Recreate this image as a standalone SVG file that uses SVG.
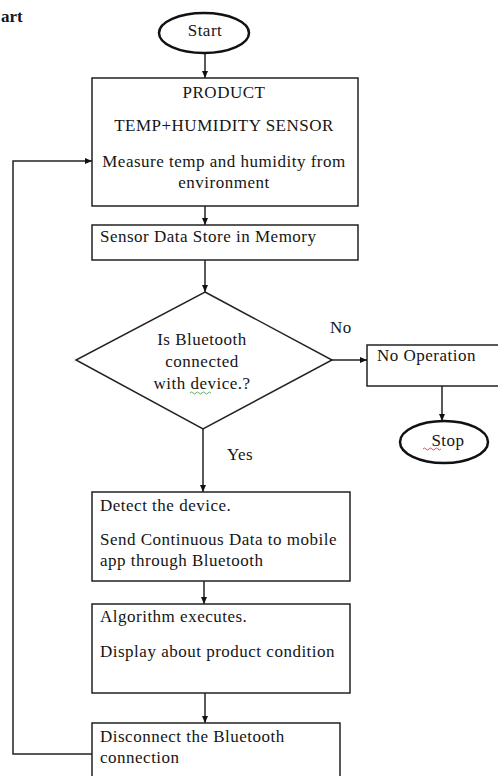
<svg xmlns="http://www.w3.org/2000/svg" width="498" height="776" viewBox="0 0 498 776">
<defs>
<marker id="ah" markerWidth="8" markerHeight="8" refX="7" refY="4" orient="auto" markerUnits="userSpaceOnUse">
<path d="M0,1 L7,4 L0,7 Z" fill="#111"/>
</marker>
<style>
text{font-family:"Liberation Serif","Times New Roman",serif;font-size:17px;fill:#151515;letter-spacing:0.5px}
.c{text-anchor:middle}
.box{fill:#fff;stroke:#222;stroke-width:1.5}
.term{fill:#fff;stroke:#111;stroke-width:2.5}
.ln{fill:none;stroke:#222;stroke-width:1.5}
</style>
</defs>
<rect width="498" height="776" fill="#fff"/>
<text x="1" y="22" style="font-weight:bold;letter-spacing:0">art</text>
<g id="connectors">
<line class="ln" x1="205" y1="54" x2="205" y2="78" marker-end="url(#ah)"/>
<line class="ln" x1="205" y1="206" x2="205" y2="225" marker-end="url(#ah)"/>
<line class="ln" x1="205" y1="260" x2="205" y2="292" marker-end="url(#ah)"/>
<line class="ln" x1="332" y1="360" x2="367" y2="360" marker-end="url(#ah)"/>
<line class="ln" x1="442" y1="386" x2="442" y2="421" marker-end="url(#ah)"/>
<line class="ln" x1="203" y1="429" x2="203" y2="492" marker-end="url(#ah)"/>
<line class="ln" x1="204" y1="581" x2="204" y2="604" marker-end="url(#ah)"/>
<line class="ln" x1="205" y1="693" x2="205" y2="723" marker-end="url(#ah)"/>
<polyline class="ln" points="92,754 13,754 13,161 92,161" marker-end="url(#ah)"/>
<text x="330" y="333">No</text>
<text x="227" y="460">Yes</text>
</g>
<g id="start">
<ellipse class="term" cx="204" cy="33" rx="45" ry="20"/>
<text class="c" x="205" y="36">Start</text>
</g>
<g id="sensor">
<rect class="box" x="92" y="78" width="266" height="128"/>
<text class="c" x="224" y="98">PRODUCT</text>
<text class="c" x="224" y="131">TEMP+HUMIDITY SENSOR</text>
<text class="c" x="224" y="167">Measure temp and humidity from</text>
<text class="c" x="224" y="188">environment</text>
</g>
<g id="store">
<rect class="box" x="92" y="225" width="266" height="35"/>
<text x="100" y="242">Sensor Data Store in Memory</text>
</g>
<g id="decision">
<polygon class="box" points="205,292 332,360 203,429 76,360"/>
<text class="c" x="202" y="345">Is Bluetooth</text>
<text class="c" x="202" y="367">connected</text>
<text class="c" x="202" y="389">with device.?</text>
<path d="M190,393 q1.5,-2 3,0 t3,0 t3,0 t3,0 t3,0 t3,0 t3,0" fill="none" stroke="#3a9a3a" stroke-width="0.8"/>
</g>
<g id="noop">
<rect class="box" x="367" y="345" width="140" height="41"/>
<text x="377" y="361">No Operation</text>
</g>
<g id="stop">
<ellipse class="term" cx="444" cy="442" rx="44" ry="21"/>
<text class="c" x="448" y="446">Stop</text>
<path d="M423,449 q1.5,-2 3,0 t3,0 t3,0 t3,0 t3,0 t3,0" fill="none" stroke="#e02020" stroke-width="0.8"/>
</g>
<g id="detect">
<rect class="box" x="92" y="492" width="258" height="89"/>
<text x="100" y="511">Detect the device.</text>
<text x="100" y="545">Send Continuous Data to mobile</text>
<text x="100" y="566">app through Bluetooth</text>
</g>
<g id="algorithm">
<rect class="box" x="92" y="604" width="258" height="89"/>
<text x="100" y="622">Algorithm executes.</text>
<text x="100" y="657">Display about product condition</text>
</g>
<g id="disconnect">
<rect class="box" x="92" y="723" width="248" height="70"/>
<text x="100" y="742">Disconnect the Bluetooth</text>
<text x="100" y="763">connection</text>
</g>
</svg>
